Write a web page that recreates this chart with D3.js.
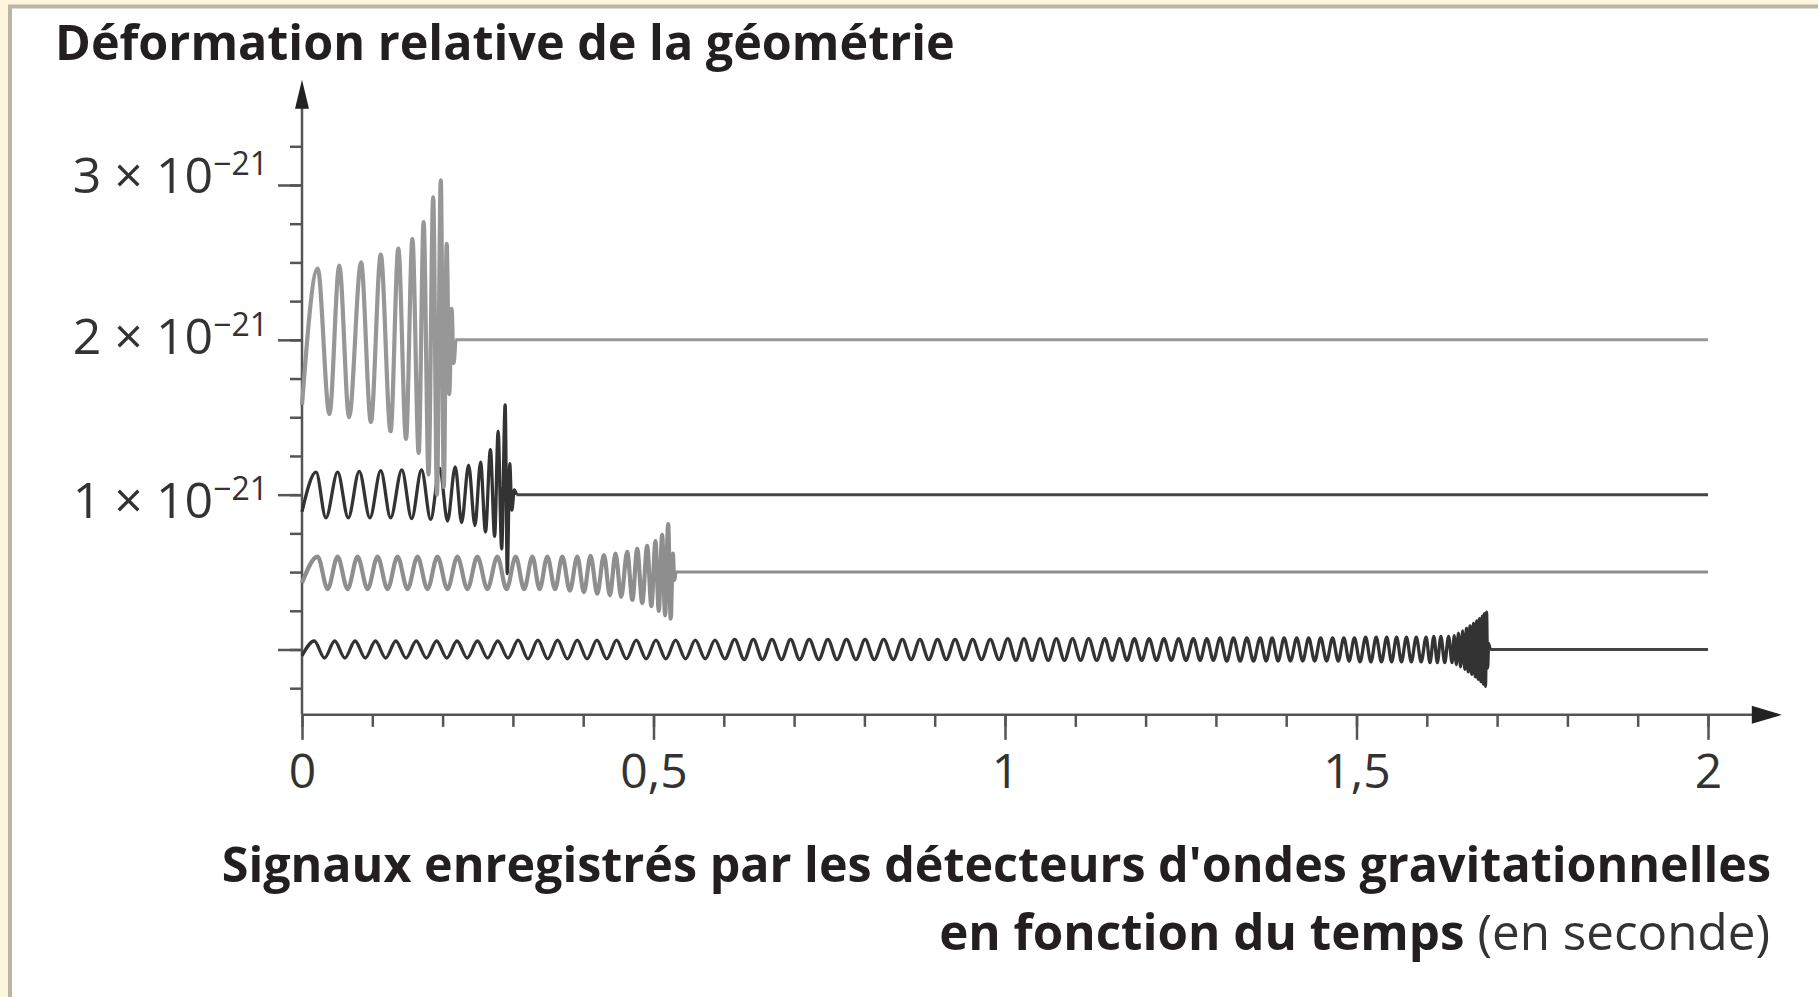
<!DOCTYPE html>
<html>
<head>
<meta charset="utf-8">
<script src="https://cdn.jsdelivr.net/npm/d3@7"></script>
<style>
  body { margin: 0; background: #fdf5dc; }
  svg { display: block; }
</style>
</head>
<body>
<svg width="1818" height="997"></svg>
<script>
// values in units of 1e-21, time in seconds
const yMajor = [0, 1, 2, 3];
const yLabels = ['1', '2', '3'];
const xMajor = [0, 0.5, 1, 1.5, 2];
const xTickLabels = ['0', '0,5', '1', '1,5', '2'];
const baselines = [2, 1, 0.5, 0];

// extrema, [t, value]
const signal1 = [[0,1.58],[0.0223,2.46],[0.039,1.52],[0.053,2.48],[0.067,1.50],[0.084,2.50],[0.098,1.47],
  [0.112,2.55],[0.126,1.41],[0.137,2.59],[0.148,1.36],[0.157,2.65],[0.166,1.27],[0.173,2.76],[0.180,1.13],
  [0.1866,2.92],[0.192,1.0],[0.1974,3.03],[0.2018,1.05],[0.2058,2.62],[0.2095,1.65],[0.2128,2.2],
  [0.2155,1.85],[0.218,2.0]];

const signal2 = [[0,0.89],[0.020,1.145],[0.034,0.85],[0.0507,1.145],[0.0658,0.85],[0.0814,1.15],[0.0966,0.85],
  [0.112,1.155],[0.126,0.85],[0.142,1.16],[0.156,0.845],[0.170,1.16],[0.183,0.84],[0.196,1.17],[0.207,0.83],
  [0.218,1.18],[0.227,0.82],[0.237,1.19],[0.246,0.80],[0.254,1.21],[0.261,0.76],[0.268,1.29],[0.274,0.73],
  [0.279,1.41],[0.284,0.65],[0.289,1.58],[0.292,0.49],[0.2955,1.2],[0.2985,0.9],[0.302,1.03],[0.305,1.0]];

const signal3 = [[0,0.43],[0.0223,0.60],[0.0365,0.39],[0.0507,0.60],[0.0649,0.39],[0.0791,0.60],[0.0933,0.39],
  [0.1075,0.60],[0.1217,0.39],[0.1359,0.60],[0.1501,0.39],[0.1643,0.60],[0.1785,0.39],[0.1927,0.60],
  [0.2069,0.39],[0.2211,0.60],[0.2353,0.39],[0.2495,0.60],[0.2637,0.39],[0.2779,0.60],[0.291,0.39],
  [0.304,0.60],[0.316,0.39],[0.3277,0.60],[0.338,0.39],[0.349,0.60],[0.360,0.39],[0.3703,0.60],[0.381,0.38],
  [0.3916,0.60],[0.401,0.37],[0.4105,0.605],[0.420,0.36],[0.4295,0.61],[0.438,0.35],[0.446,0.62],[0.454,0.34],
  [0.4626,0.63],[0.470,0.32],[0.4768,0.65],[0.484,0.30],[0.491,0.67],[0.497,0.28],[0.5028,0.70],[0.5075,0.25],
  [0.5123,0.74],[0.5165,0.22],[0.5208,0.81],[0.5245,0.20],[0.5275,0.62],[0.5295,0.45],[0.531,0.5]];

const signal4 = [[0,-0.04],
  [0.0175,0.055],[0.032,-0.055],[0.0465,0.055],[0.061,-0.055],[0.0755,0.055],[0.090,-0.055],[0.1045,0.055],
  [0.119,-0.055],[0.1335,0.055],[0.148,-0.055],[0.1625,0.055],[0.177,-0.055],[0.1915,0.055],[0.206,-0.055],
  [0.2205,0.055],[0.235,-0.055],[0.2495,0.055],[0.264,-0.055],[0.2785,0.055],[0.293,-0.055],
  [0.3075,0.06],[0.3215,-0.06],[0.3355,0.06],[0.3495,-0.06],[0.3635,0.06],[0.3775,-0.06],[0.3915,0.06],
  [0.4055,-0.06],[0.4195,0.06],[0.4335,-0.06],[0.4475,0.06],[0.4615,-0.06],[0.4755,0.06],[0.4895,-0.06],
  [0.5035,0.06],[0.5175,-0.06],[0.5315,0.06],[0.5455,-0.06],[0.5595,0.06],[0.5735,-0.06],[0.5875,0.06],
  [0.6015,-0.06],
  [0.6155,0.065],[0.629,-0.065],[0.642,0.065],[0.655,-0.065],[0.6685,0.065],[0.682,-0.065],[0.695,0.065],
  [0.708,-0.065],[0.7215,0.065],[0.735,-0.065],[0.748,0.065],[0.761,-0.065],[0.7745,0.065],[0.788,-0.065],
  [0.801,0.065],[0.814,-0.065],[0.8275,0.065],[0.841,-0.065],[0.854,0.065],[0.8665,-0.065],[0.879,0.065],
  [0.8915,-0.065],[0.904,0.065],[0.9165,-0.065],[0.929,0.065],[0.9415,-0.065],[0.954,0.065],[0.9665,-0.065],
  [0.979,0.065],[0.9915,-0.065],
  [1.004,0.07],[1.0155,-0.07],[1.027,0.07],[1.0385,-0.07],[1.050,0.07],[1.0615,-0.07],[1.073,0.07],
  [1.0845,-0.07],[1.096,0.07],[1.1075,-0.07],[1.119,0.07],[1.1305,-0.07],[1.142,0.07],[1.1525,-0.07],
  [1.163,0.07],[1.1735,-0.07],[1.184,0.07],[1.1945,-0.07],[1.205,0.07],[1.2155,-0.07],[1.226,0.07],
  [1.2365,-0.07],[1.247,0.07],[1.2575,-0.07],[1.268,0.07],[1.2775,-0.07],[1.287,0.07],[1.2965,-0.07],
  [1.306,0.075],[1.3155,-0.075],[1.325,0.075],[1.3345,-0.075],[1.344,0.075],[1.3535,-0.075],[1.363,0.075],
  [1.3715,-0.075],[1.380,0.075],[1.3885,-0.075],[1.397,0.075],[1.406,-0.075],[1.415,0.075],[1.4235,-0.075],
  [1.432,0.075],[1.4405,-0.075],[1.449,0.075],[1.4575,-0.075],[1.466,0.075],[1.474,-0.075],[1.482,0.075],
  [1.4895,-0.075],[1.497,0.075],
  [1.505,-0.08],[1.513,0.08],[1.5205,-0.08],[1.528,0.08],[1.5355,-0.08],[1.543,0.08],[1.550,-0.08],
  [1.557,0.08],[1.564,-0.08],[1.571,0.08],[1.578,-0.08],[1.585,0.08],[1.592,-0.08],[1.599,0.08],
  [1.6045,-0.085],[1.610,0.085],[1.615,-0.085],[1.620,0.085],[1.6255,-0.085],[1.631,0.085],[1.636,-0.085],
  [1.639,0.09],[1.642,-0.097],[1.645,0.105],[1.648,-0.112],[1.651,0.12],[1.654,-0.128],[1.6565,0.136],
  [1.659,-0.144],[1.6615,0.152],[1.664,-0.16],[1.6665,0.168],[1.669,-0.176],[1.671,0.184],[1.673,-0.192],
  [1.675,0.2],[1.677,-0.208],[1.679,0.216],[1.6805,-0.224],[1.682,0.232],[1.6835,-0.238],[1.685,0.242],
  [1.6865,-0.12],[1.688,0.04],[1.690,0]];

const signals = [
  { data: signal4, base: baselines[3], color: '#333', width: 3.3 },
  { data: signal3, base: baselines[2], color: '#8e8e8e', width: 4.2 },
  { data: signal2, base: baselines[1], color: '#333', width: 3.3 },
  { data: signal1, base: baselines[0], color: '#979797', width: 4.2 }
];

const svg = d3.select('svg');
const tMax = 2;

const x = d3.scaleLinear().domain([0, 2]).range([302, 1708]);
const y = d3.scaleLinear().domain([0, 3]).range([649.5, 185]);
const yBottom = -0.422, yTop = 3.68;
const x0 = x(0), y0 = y(yBottom);

// panel
svg.append('rect')
  .attr('x', 10).attr('y', 6.5).attr('width', 1830).attr('height', 1010)
  .attr('fill', '#fff').attr('stroke', '#b9b5a9').attr('stroke-width', 4);

const axisColor = '#555';
const g = svg.append('g');

// x axis ticks
const xMinor = d3.range(0, 21).map(i => i / 10);
g.append('g').attr('transform', `translate(0,${y0})`)
  .call(d3.axisBottom(x).tickValues(xMinor).tickSize(12).tickFormat(''))
  .call(a => a.select('.domain').remove());
const xAx = g.append('g').attr('transform', `translate(0,${y0})`)
  .call(d3.axisBottom(x).tickValues(xMajor).tickSize(25).tickFormat((d, i) => xTickLabels[i]))
  .call(a => a.select('.domain').remove());
xAx.selectAll('text')
  .attr('y', 73).attr('dy', 0)
  .attr('font-family', '"Open Sans", sans-serif').attr('font-size', 48).attr('fill', '#333');

// y axis ticks
const yMinor = d3.range(-1, 14).map(i => i / 4);
g.append('g').attr('transform', `translate(${x0},0)`)
  .call(d3.axisLeft(y).tickValues(yMinor).tickSize(12).tickFormat(''))
  .call(a => a.select('.domain').remove());
g.append('g').attr('transform', `translate(${x0},0)`)
  .call(d3.axisLeft(y).tickValues(yMajor).tickSize(24).tickFormat(''))
  .call(a => a.select('.domain').remove());

g.selectAll('.tick line').attr('stroke', axisColor).attr('stroke-width', 2.5);

// y labels (the printed labels sit a little lower toward the bottom)
const labelDrop = [23, 14, 8];
const yl = g.selectAll('.ylab').data(yMajor.slice(1)).enter()
  .append('text')
  .attr('class', 'ylab')
  .attr('x', 268)
  .attr('y', (d, i) => y(d) + labelDrop[i])
  .attr('text-anchor', 'end')
  .attr('font-family', '"Open Sans", sans-serif')
  .attr('fill', '#333');
yl.append('tspan').attr('font-size', 50).text((d, i) => yLabels[i] + ' \u00d7 10');
yl.append('tspan').attr('font-size', 32).attr('dy', -18).text('\u221221');

// axis lines with arrows
g.append('line')
  .attr('x1', x0).attr('y1', y0).attr('x2', x(2.07)).attr('y2', y0)
  .attr('stroke', axisColor).attr('stroke-width', 2.5);
g.append('line')
  .attr('x1', x0).attr('y1', y0).attr('x2', x0).attr('y2', y(yTop - 0.15))
  .attr('stroke', axisColor).attr('stroke-width', 2.5);
const xt = x(2.105);
g.append('path')
  .attr('d', `M${xt},${y0} L${xt - 30},${y0 - 9} L${xt - 30},${y0 + 9} Z`)
  .attr('fill', '#222');
const yt = y(yTop);
g.append('path')
  .attr('d', `M${x0},${yt} L${x0 - 7},${yt + 29} L${x0 + 7},${yt + 29} Z`)
  .attr('fill', '#222');

// signals
const line = d3.line()
  .x(d => x(d[0]))
  .y(d => y(d[1]))
  .curve(d3.curveMonotoneX);

signals.forEach(s => {
  const last = s.data[s.data.length - 1];
  g.append('line')
    .attr('x1', x(last[0])).attr('x2', x(tMax))
    .attr('y1', y(s.base)).attr('y2', y(s.base))
    .attr('stroke', s.color === '#333' ? '#444' : s.color).attr('stroke-width', 3);
  g.append('path')
    .attr('d', line(s.data))
    .attr('fill', 'none')
    .attr('stroke', s.color)
    .attr('stroke-width', s.width)
    .attr('stroke-linejoin', 'round');
});

// titles
const fit = (sel, w) => {
  const fs = +sel.attr('font-size');
  sel.attr('font-size', fs * w / sel.node().getComputedTextLength());
};

const title = svg.append('text')
  .attr('x', 55).attr('y', 60)
  .attr('font-family', '"Open Sans", sans-serif')
  .attr('font-weight', 700)
  .attr('font-size', 44)
  .attr('fill', '#231f20')
  .text('Déformation relative de la géométrie');
fit(title, 900);

const xt1 = svg.append('text')
  .attr('x', 1771).attr('y', 882)
  .attr('text-anchor', 'end')
  .attr('font-family', '"Open Sans", sans-serif')
  .attr('font-weight', 700)
  .attr('font-size', 44)
  .attr('fill', '#231f20')
  .text("Signaux enregistrés par les détecteurs d'ondes gravitationnelles");
fit(xt1, 1550);

const xt2 = svg.append('text')
  .attr('x', 1770).attr('y', 950)
  .attr('text-anchor', 'end')
  .attr('font-family', '"Open Sans", sans-serif')
  .attr('font-size', 44)
  .attr('fill', '#231f20');
xt2.append('tspan').attr('font-weight', 700).text('en fonction du temps ');
xt2.append('tspan').attr('font-weight', 400).attr('fill', '#333').text('(en seconde)');
fit(xt2, 831);
</script>
</body>
</html>
